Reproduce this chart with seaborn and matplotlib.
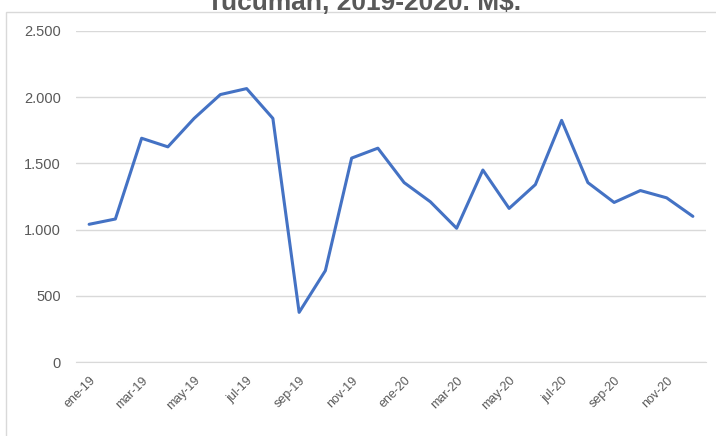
import numpy as np
import pandas as pd
import matplotlib
matplotlib.use("Agg")
import matplotlib.pyplot as plt
import seaborn as sns
from matplotlib.patches import Rectangle
from matplotlib.ticker import FuncFormatter

# monthly values, M$
months = ["ene-19", "feb-19", "mar-19", "abr-19", "may-19", "jun-19",
          "jul-19", "ago-19", "sep-19", "oct-19", "nov-19", "dic-19",
          "ene-20", "feb-20", "mar-20", "abr-20", "may-20", "jun-20",
          "jul-20", "ago-20", "sep-20", "oct-20", "nov-20", "dic-20"]
values = [1040, 1080, 1690, 1625, 1840, 2020,
          2065, 1840, 375, 690, 1540, 1615,
          1355, 1210, 1010, 1450, 1160, 1340,
          1825, 1355, 1205, 1295, 1240, 1100]
y_ticks = [0, 500, 1000, 1500, 2000, 2500]

df = pd.DataFrame({"mes": months, "valor": values})
df["pos"] = np.arange(len(df))

sns.set_style("white")
plt.rcParams["font.family"] = ["Liberation Sans", "DejaVu Sans"]

fig = plt.figure(figsize=(7.16, 4.36), dpi=100)
ax = fig.add_axes([76 / 716, 1 - 362 / 436, 630 / 716, 331 / 436])

sns.lineplot(data=df, x="pos", y="valor", color="#4472C4", linewidth=2.2, ax=ax)

ax.set_ylim(0, 2500)
ax.set_xlim(-0.5, len(df) - 0.5)
ax.set_yticks(y_ticks)
ax.yaxis.set_major_formatter(FuncFormatter(lambda v, p: f"{int(v):,}".replace(",", ".")))
ax.yaxis.grid(True, color="#d9d9d9", linewidth=1)
ax.set_axisbelow(True)

# labels every two months, tick marks between categories
ax.set_xticks(df["pos"][::2])
ax.set_xticklabels(df["mes"][::2], rotation=45, ha="right", rotation_mode="anchor")
ax.set_xticks(np.arange(-0.5, len(df), 2), minor=True)
ax.tick_params(axis="x", which="major", length=0, labelsize=9, colors="#595959", pad=9)
ax.tick_params(axis="x", which="minor", length=4, color="#d9d9d9", width=1)
ax.tick_params(axis="y", length=0, labelsize=10.5, colors="#595959", pad=11)

for s in ["top", "right", "left"]:
    ax.spines[s].set_visible(False)
ax.spines["bottom"].set_color("#d9d9d9")
ax.set_xlabel("")
ax.set_ylabel("")

# chart area border
fig.patches.append(Rectangle((6 / 716, -0.01), 1.0, 1 - 12 / 436 + 0.01,
                             transform=fig.transFigure, fill=False,
                             edgecolor="#d9d9d9", linewidth=1))

# title sits partly above the top edge, as in the original
fig.text(364 / 716, 1 - 10 / 436, "Tucumán, 2019-2020. M$.", ha="center", va="baseline",
         fontsize=19, fontweight="bold", color="#595959")

fig.savefig("out.png", dpi=100)
